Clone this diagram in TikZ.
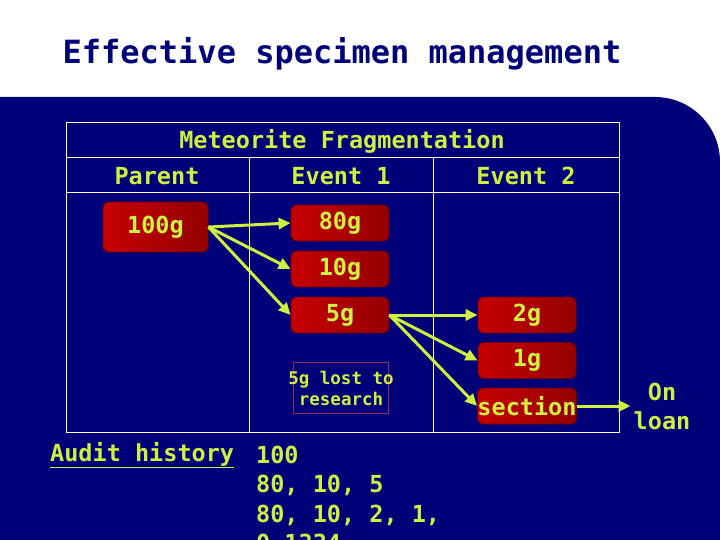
\documentclass[tikz,border=0pt]{standalone}
\usepackage{fontspec}
\setmainfont{DejaVu Sans Mono}
\usetikzlibrary{arrows.meta}
\definecolor{navy}{RGB}{0,0,120}
\definecolor{lime}{RGB}{206,240,64}
\definecolor{boxdark}{RGB}{110,0,0}
\definecolor{lostframe}{RGB}{150,40,90}
\begin{document}
\begin{tikzpicture}[x=1pt,y=-1pt,
  lbl/.style={text=lime, inner sep=0pt, font=\bfseries\fontsize{23.5}{29}\selectfont},
  frag/.style={rectangle, rounded corners=6pt, draw=boxdark, line width=0.8pt,
    left color=red!78!black, right color=red!58!black,
    minimum width=98pt, minimum height=36pt, inner sep=0pt,
    text=lime, font=\bfseries\fontsize{23.5}{26}\selectfont},
  conn/.style={draw=lime, line width=3pt, -{Triangle[length=12pt,width=11pt]}},
  grid/.style={draw=white, line width=0.9pt}]
\useasboundingbox (0,0) rectangle (720,540);
\clip (0,0) rectangle (720,540);
\fill[white] (0,0) rectangle (720,540);
% navy panel with rounded top-right corner
\fill[navy] (0,540) -- (0,97) -- (655,97) arc[start angle=-90, end angle=0, radius=65] -- (720,540) -- cycle;
% title
\node[text=navy, inner sep=0pt, font=\bfseries\fontsize{32}{34}\selectfont] (title) at (342,54) {Effective specimen management};
% table grid
\draw[grid] (66,122) rectangle (619,432);
\draw[grid] (66,157) -- (619,157);
\draw[grid] (66,192) -- (619,192);
\draw[grid] (249,157) -- (249,432);
\draw[grid] (433,157) -- (433,432);
% headers
\node[lbl] (hmain) at (342,141) {Meteorite Fragmentation};
\node[lbl] (hpar) at (157,176) {Parent};
\node[lbl] (hev1) at (341,176) {Event 1};
\node[lbl] (hev2) at (526,176) {Event 2};
% fragments
\node[frag, minimum width=105pt, minimum height=50pt] (p100) at (155.5,227) {100g};
\node[frag] (e80) at (340,223) {80g};
\node[frag] (e10) at (340,269) {10g};
\node[frag] (e5) at (340,315) {5g};
\node[frag] (f2) at (527,315) {2g};
\node[frag] (f1) at (527,360.5) {1g};
\node[frag] (sec) at (527,406) {section};
% lost to research
\node[draw=lostframe, line width=0.6pt, minimum width=95pt, minimum height=51pt, inner sep=0pt] (lostbox) at (340.5,387.5) {};
\node[text=lime, align=center, inner sep=0pt, font=\bfseries\fontsize{17.5}{21}\selectfont] (lost) at (341,388) {5g lost to\\research};
% on loan
\node[lbl, align=center, inner sep=3pt] (loan) at (662,406) {On\\loan};
% connectors
\draw[conn] (p100.east) -- (e80.west);
\draw[conn] (p100.east) -- (e10.west);
\draw[conn] (p100.east) -- (e5.west);
\draw[conn] (e5.east) -- (f2.west);
\draw[conn] (e5.east) -- (f1.west);
\draw[conn] (e5.east) -- (sec.west);
\draw[conn] (sec.east) -- (loan.west);
% audit history
\node[lbl, anchor=base west] (audit) at (50,461) {\underline{Audit history}};
\node[lbl, anchor=base west] (a1) at (256,463) {100};
\node[lbl, anchor=base west] (a2) at (256,492) {80, 10, 5};
\node[lbl, anchor=base west] (a3) at (256,522) {80, 10, 2, 1,};
\node[lbl, anchor=base west] (a4) at (256,551) {0.1334};
\end{tikzpicture}
\end{document}
